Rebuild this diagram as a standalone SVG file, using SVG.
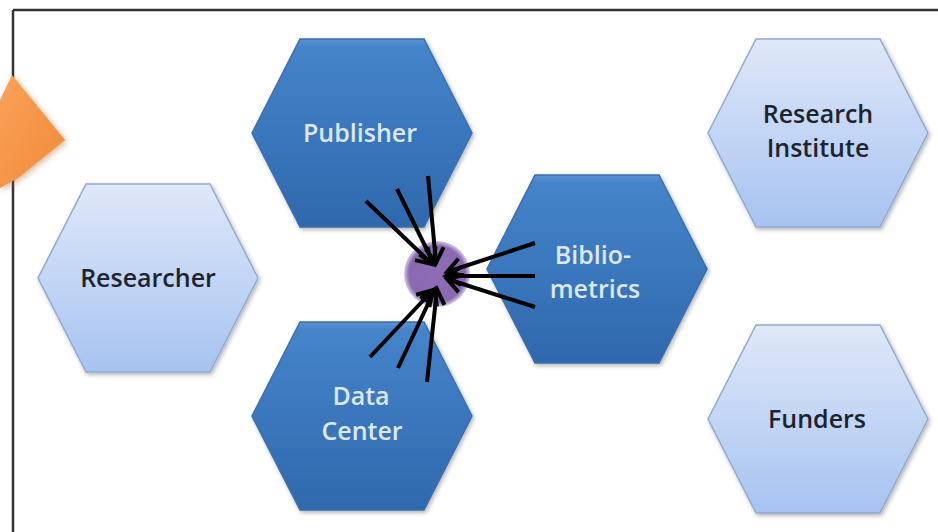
<svg xmlns="http://www.w3.org/2000/svg" width="938" height="532" viewBox="0 0 938 532">
  <defs>
    <linearGradient id="gLight" x1="0" y1="0" x2="0" y2="1">
      <stop offset="0" stop-color="#dfe8f8"/>
      <stop offset="1" stop-color="#a7c3f1"/>
    </linearGradient>
    <linearGradient id="gDark" x1="0" y1="0" x2="0" y2="1">
      <stop offset="0" stop-color="#5a93d3"/>
      <stop offset="0.04" stop-color="#4584ca"/>
      <stop offset="1" stop-color="#2f68ad"/>
    </linearGradient>
    <linearGradient id="gOrange" x1="0" y1="0" x2="1" y2="1">
      <stop offset="0" stop-color="#fba15a"/>
      <stop offset="1" stop-color="#f08a38"/>
    </linearGradient>
    <radialGradient id="gPurple" cx="0.5" cy="0.5" r="0.5">
      <stop offset="0" stop-color="#8e6cb6"/>
      <stop offset="0.85" stop-color="#8a68b2"/>
      <stop offset="1" stop-color="#8a68b2" stop-opacity="0.35"/>
    </radialGradient>
    <filter id="shadow" x="-10%" y="-10%" width="125%" height="125%">
      <feDropShadow dx="1.5" dy="2" stdDeviation="2" flood-color="#000" flood-opacity="0.3"/>
    </filter>
    <filter id="glow" x="-30%" y="-30%" width="160%" height="160%">
      <feDropShadow dx="2" dy="2" stdDeviation="3" flood-color="#a06020" flood-opacity="0.45"/>
    </filter>
    <marker id="ah" markerUnits="userSpaceOnUse" markerWidth="24" markerHeight="24" viewBox="0 0 24 24" refX="19" refY="12" orient="auto">
      <path d="M4,3 L19,12 L4,21" fill="none" stroke="#000" stroke-width="4" stroke-linejoin="miter"/>
    </marker>
    <style>
      .light { fill: url(#gLight); stroke: #93a9cf; stroke-width: 1.5; filter: url(#shadow); }
      .dark { fill: url(#gDark); stroke: #3b6fae; stroke-width: 1.5; filter: url(#shadow); }
      .lbl { font-family: "Open Sans", "Noto Sans", "Liberation Sans", sans-serif; font-size: 25px; font-weight: 600; text-anchor: middle; }
      .lt { fill: #1c2430; }
      .dt { fill: #dce8f6; }
      .conn line { stroke: #000; stroke-width: 4; marker-end: url(#ah); }
    </style>
  </defs>

  <rect x="0" y="0" width="938" height="532" fill="#ffffff"/>

  <!-- frame -->
  <g id="frame" stroke="#333" stroke-width="2.5" fill="none">
    <line x1="13" y1="10" x2="938" y2="10"/>
    <line x1="13" y1="10" x2="13" y2="532"/>
  </g>

  <!-- orange arrow (partially shown) -->
  <g id="orange-arrow">
    <polygon points="0,100 12,75 65,140 18,178 0,188" fill="url(#gOrange)" filter="url(#glow)"/>
  </g>

  <g id="researcher">
    <polygon class="light" points="38,278 86,184 210,184 258,278 210,372 86,372"/>
    <text class="lbl lt" x="148" y="287">Researcher</text>
  </g>

  <g id="publisher">
    <polygon class="dark" points="252,133 300,39 424,39 472,133 424,227 300,227"/>
    <text class="lbl dt" x="360" y="142">Publisher</text>
  </g>

  <g id="data-center">
    <polygon class="dark" points="252,416 300,322 424,322 472,416 424,510 300,510"/>
    <text class="lbl dt" x="361" y="405">Data</text>
    <text class="lbl dt" x="362" y="440">Center</text>
  </g>

  <g id="bibliometrics">
    <polygon class="dark" points="487,269 535,175 659,175 707,269 659,363 535,363"/>
    <text class="lbl dt" x="593" y="264">Biblio-</text>
    <text class="lbl dt" x="595" y="298">metrics</text>
  </g>

  <g id="research-institute">
    <polygon class="light" points="708,133 756,39 880,39 928,133 880,227 756,227"/>
    <text class="lbl lt" x="818" y="123">Research</text>
    <text class="lbl lt" x="818" y="157">Institute</text>
  </g>

  <g id="funders">
    <polygon class="light" points="708,419 756,325 880,325 928,419 880,513 756,513"/>
    <text class="lbl lt" x="817" y="428">Funders</text>
  </g>

  <g id="hub">
    <circle cx="437" cy="274" r="33" fill="url(#gPurple)"/>
  </g>

  <g id="connectors" class="conn">
    <line x1="366" y1="201" x2="432" y2="264"/>
    <line x1="397" y1="189" x2="434" y2="264"/>
    <line x1="428" y1="176" x2="436" y2="263"/>
    <line x1="535" y1="243" x2="447" y2="272"/>
    <line x1="535" y1="276" x2="446" y2="276"/>
    <line x1="535" y1="307" x2="447" y2="279"/>
    <line x1="370" y1="357" x2="433" y2="290"/>
    <line x1="398" y1="368" x2="435" y2="289"/>
    <line x1="427" y1="382" x2="437" y2="289"/>
  </g>
</svg>
